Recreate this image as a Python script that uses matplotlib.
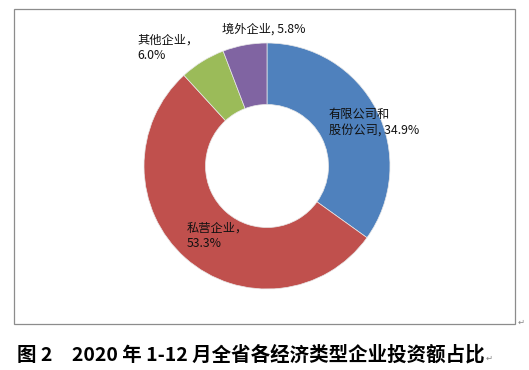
import matplotlib
matplotlib.use("Agg")
import matplotlib.pyplot as plt
from matplotlib.patches import Rectangle

plt.rcParams['font.family'] = ['Noto Sans CJK SC', 'DejaVu Sans']

categories = ["有限公司和\n股份公司", "私营企业", "其他企业", "境外企业"]
values = [34.9, 53.3, 6.0, 5.8]
colors = ["#4F81BD", "#C0504D", "#9BBB59", "#8064A2"]
label_texts = ["有限公司和\n股份公司, 34.9%", "私营企业，\n53.3%", "其他企业，\n6.0%", "境外企业, 5.8%"]
caption = "图 2　2020 年 1-12 月全省各经济类型企业投资额占比"

W, H = 529, 370
fig = plt.figure(figsize=(W / 100, H / 100), dpi=100)
ax = fig.add_axes([0, 0, 1, 1])
ax.set_xlim(0, W)
ax.set_ylim(0, H)
ax.set_aspect('equal')
ax.axis('off')

# frame
ax.add_patch(Rectangle((14, H - 324), 501, 315, fill=False, edgecolor='#8c8c8c', linewidth=0.9))

cx, cy, r = 267, H - 166, 123
ax.pie(values, colors=colors, startangle=90, counterclock=False,
       center=(cx, cy), radius=r, frame=True,
       wedgeprops=dict(width=r * 0.5, edgecolor='#e8e8e8', linewidth=0.5))
ax.set_xlim(0, W)
ax.set_ylim(0, H)
ax.axis('off')

pos = [(329, 122), (187, 236), (137, 48), (222, 29)]
for (x, y), t in zip(pos, label_texts):
    ax.text(x, H - y, t, fontsize=8.8, ha='left', va='center', color='#111111', linespacing=1.25)

cap = ax.text(17, H - 355, caption, fontsize=14, ha='left', va='center', color='black', fontweight='bold',
              family=['Noto Sans CJK SC', 'DejaVu Sans'])
ax.text(518, H - 322, "↵", fontsize=6, ha='left', va='center', color='#888888',
        family=['DejaVu Sans'])
fig.canvas.draw()
bb = cap.get_window_extent(renderer=fig.canvas.get_renderer())
ax.text(bb.x1 + 1, H - 358, "↵", fontsize=6, ha='left', va='center', color='#888888',
        family=['DejaVu Sans'])

fig.savefig("out.png", dpi=100)
